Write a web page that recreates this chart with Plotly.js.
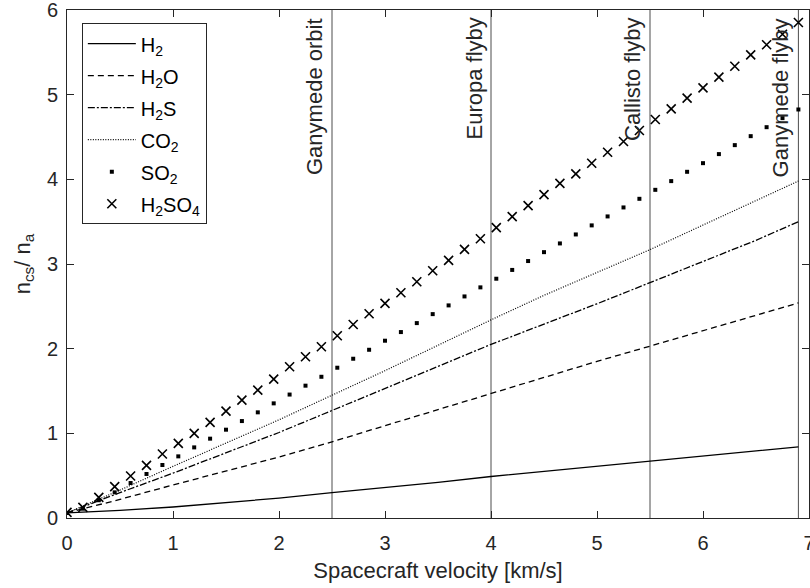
<!DOCTYPE html>
<html>
<head>
<meta charset="utf-8">
<script src="https://cdn.plot.ly/plotly-3.0.1.min.js"></script>
<style>
  html, body { margin: 0; padding: 0; background: #ffffff; }
  #chart { width: 810px; height: 588px; }
</style>
</head>
<body>
<div id="chart"></div>
<script>
// Spacecraft velocity [km/s] sampled for the marker series
const vMarkers = [0, 0.15, 0.3, 0.45, 0.6, 0.75, 0.9, 1.05, 1.2, 1.35, 1.5, 1.65, 1.8, 1.95,
  2.1, 2.25, 2.4, 2.55, 2.7, 2.85, 3.0, 3.15, 3.3, 3.45, 3.6, 3.75, 3.9, 4.05, 4.2, 4.35,
  4.5, 4.65, 4.8, 4.95, 5.1, 5.25, 5.4, 5.55, 5.7, 5.85, 6.0, 6.15, 6.3, 6.45, 6.6, 6.75, 6.9];

// Velocity grid for the line series
const vLines = [0, 0.5, 1, 1.5, 2, 2.5, 3, 3.5, 4, 4.5, 5, 5.5, 6, 6.5, 6.9];

// n_cs / n_a for each species
const h2   = [0.06, 0.09, 0.13, 0.18, 0.235, 0.30, 0.36, 0.42, 0.49, 0.55, 0.61, 0.67, 0.73, 0.79, 0.84];
const h2o  = [0.06, 0.22, 0.39, 0.555, 0.72, 0.90, 1.09, 1.28, 1.47, 1.66, 1.85, 2.03, 2.21, 2.39, 2.54];
const h2s  = [0.06, 0.30, 0.53, 0.77, 1.01, 1.27, 1.53, 1.79, 2.05, 2.29, 2.53, 2.78, 3.03, 3.28, 3.50];
const co2  = [0.06, 0.33, 0.61, 0.885, 1.16, 1.45, 1.74, 2.04, 2.34, 2.63, 2.90, 3.17, 3.46, 3.75, 3.98];
const so2  = [0.06, 0.11, 0.21, 0.303, 0.413, 0.52, 0.626, 0.728, 0.834, 0.937, 1.043, 1.145, 1.248, 1.354,
  1.458, 1.563, 1.668, 1.775, 1.881, 1.987, 2.094, 2.196, 2.302, 2.408, 2.511, 2.617, 2.724, 2.826,
  2.93, 3.035, 3.14, 3.243, 3.349, 3.456, 3.562, 3.668, 3.77, 3.876, 3.979, 4.089, 4.191, 4.298,
  4.404, 4.51, 4.616, 4.723, 4.825];
const h2so4 = [0.067, 0.126, 0.244, 0.37, 0.496, 0.622, 0.756, 0.882, 1.0, 1.13, 1.263, 1.393, 1.511, 1.641,
  1.786, 1.905, 2.023, 2.153, 2.286, 2.412, 2.535, 2.66, 2.79, 2.92, 3.042, 3.172, 3.298, 3.43,
  3.56, 3.69, 3.82, 3.952, 4.065, 4.19, 4.32, 4.447, 4.577, 4.707, 4.832, 4.959, 5.08, 5.207,
  5.336, 5.47, 5.59, 5.714, 5.852];

// Mission scenarios marked as vertical lines
const eventNames = ['Ganymede orbit', 'Europa flyby', 'Callisto flyby', 'Ganymede flyby'];
const eventSpeeds = [2.5, 4, 5.5, 6.9];

const FONT = 'Liberation Sans, Arial, Helvetica, sans-serif';
const AXC = '#262626';

const traces = [];

// vertical scenario lines
eventSpeeds.forEach(v => {
  traces.push({
    x: [v, v], y: [0, 6], mode: 'lines', showlegend: false, hoverinfo: 'skip',
    line: { color: '#4d4d4d', width: 1 }
  });
});

traces.push(
  { name: 'H<sub>2</sub>', legendgroup: 'a', x: vLines, y: h2, mode: 'lines',
    line: { color: '#000', width: 1.3, dash: 'solid' } },
  { name: 'H<sub>2</sub>O', legendgroup: 'b', x: vLines, y: h2o, mode: 'lines',
    line: { color: '#000', width: 1.3, dash: '6px,4px' } },
  { name: 'H<sub>2</sub>S', legendgroup: 'c', x: vLines, y: h2s, mode: 'lines',
    line: { color: '#000', width: 1.3, dash: '7px,2px,2px,2px' } },
  { name: 'CO<sub>2</sub>', legendgroup: 'd', x: vLines, y: co2, mode: 'lines',
    line: { color: '#000', width: 1.2, dash: '1px,1.5px' } },
  { name: 'SO<sub>2</sub>', legendgroup: 'e', x: vMarkers, y: so2, mode: 'markers',
    marker: { symbol: 'square', size: 4, color: '#000', line: { width: 0 } } },
  { name: 'H<sub>2</sub>SO<sub>4</sub>', legendgroup: 'f', x: vMarkers, y: h2so4, mode: 'markers',
    marker: { symbol: 'x-thin-open', size: 9, color: '#000', line: { width: 1.6, color: '#000' } } }
);

const annotations = eventNames.map((t, i) => ({
  text: t, x: eventSpeeds[i], y: 6, xref: 'x', yref: 'y',
  textangle: -90, xanchor: 'right', yanchor: 'top', xshift: -3, yshift: -6,
  showarrow: false, font: { family: FONT, size: 22, color: AXC }
}));

const axisCommon = {
  showline: true, linecolor: AXC, linewidth: 1, mirror: 'ticks',
  ticks: 'inside', ticklen: 7, tickcolor: AXC, tickwidth: 1,
  showgrid: false, zeroline: false, ticklabeloverflow: 'allow',
  tickfont: { family: FONT, size: 20, color: AXC }
};

const layout = {
  width: 810, height: 588,
  margin: { l: 67, r: 1, t: 10, b: 70 },
  paper_bgcolor: '#fff', plot_bgcolor: '#fff',
  font: { family: FONT, color: AXC },
  xaxis: Object.assign({}, axisCommon, {
    range: [0, 7], dtick: 1, tick0: 0, ticklabelstandoff: 7,
    title: { text: 'Spacecraft velocity [km/s]', font: { family: FONT, size: 22, color: AXC }, standoff: 9 }
  }),
  yaxis: Object.assign({}, axisCommon, {
    range: [0, 6], dtick: 1, tick0: 0, ticklabelstandoff: 4,
    title: { text: 'n<sub>cs</sub>/ n<sub>a</sub>', font: { family: FONT, size: 22, color: AXC }, standoff: 10 }
  }),
  legend: {
    x: 0.02, y: 0.974, xanchor: 'left', yanchor: 'top',
    bgcolor: '#fff', bordercolor: AXC, borderwidth: 1,
    font: { family: FONT, size: 20, color: '#000' },
    itemwidth: 48, tracegroupgap: 3
  },
  annotations: annotations,
  showlegend: true
};

Plotly.newPlot('chart', traces, layout, { staticPlot: true });
</script>
</body>
</html>
